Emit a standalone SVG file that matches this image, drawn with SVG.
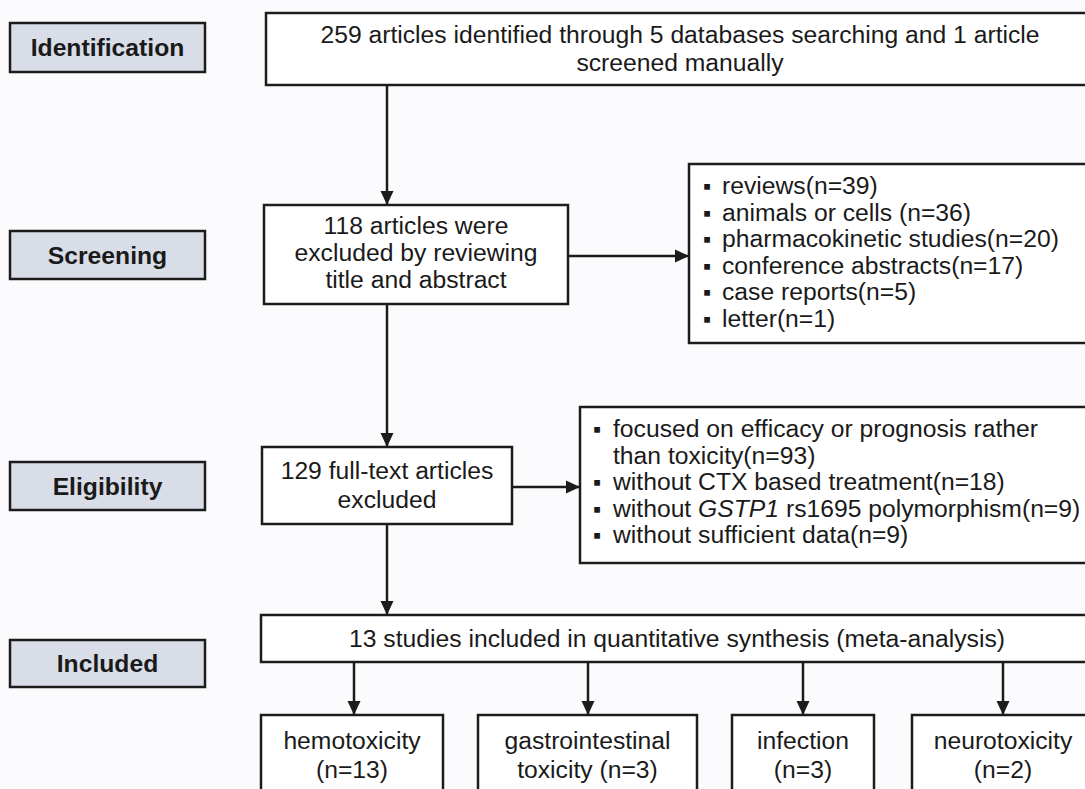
<svg xmlns="http://www.w3.org/2000/svg" width="1085" height="789" viewBox="0 0 1085 789">
<style>
text{font-family:"Liberation Sans",Arial,sans-serif;font-size:24.7px;fill:#1a1a1a}
.lbl rect{fill:#d9dde8;stroke:#1c1c1c;stroke-width:2.5}
.lbl text{font-weight:bold;text-anchor:middle}
.box rect{fill:#ffffff;stroke:#1c1c1c;stroke-width:2.5}
.c{text-anchor:middle}
.b{font-size:23px}
#connectors line{stroke:#1c1c1c;stroke-width:2.5;marker-end:url(#ah)}
</style>
<defs>
<marker id="ah" markerUnits="userSpaceOnUse" markerWidth="15" markerHeight="15" refX="14" refY="7.5" orient="auto">
<path d="M0,1 L14,7.5 L0,14 Z" fill="#1c1c1c"/>
</marker>
</defs>
<rect x="0" y="0" width="1085" height="789" fill="#fbfbfd"/>

<g id="label-identification" class="lbl"><rect x="10" y="23" width="195" height="49"/><text x="107.5" y="56">Identification</text></g>
<g id="label-screening" class="lbl"><rect x="10" y="231" width="195" height="48"/><text x="107.5" y="264">Screening</text></g>
<g id="label-eligibility" class="lbl"><rect x="10" y="462" width="195" height="48"/><text x="107.5" y="495">Eligibility</text></g>
<g id="label-included" class="lbl"><rect x="10" y="640" width="195" height="47"/><text x="107.5" y="672">Included</text></g>

<g id="node-identified" class="box"><rect x="266" y="13" width="840" height="72"/>
<text class="c" x="680" y="43">259 articles identified through 5 databases searching and 1 article</text>
<text class="c" x="680" y="71">screened manually</text></g>

<g id="node-screened" class="box"><rect x="264" y="205" width="304" height="99"/>
<text class="c" x="416" y="234">118 articles were</text>
<text class="c" x="416" y="261">excluded by reviewing</text>
<text class="c" x="416" y="288">title and abstract</text></g>

<g id="node-screen-excl" class="box"><rect x="689" y="164" width="420" height="179"/>
<text y="194"><tspan class="b" x="703">▪</tspan><tspan x="722">reviews(n=39)</tspan></text>
<text y="220.5"><tspan class="b" x="703">▪</tspan><tspan x="722">animals or cells (n=36)</tspan></text>
<text y="247"><tspan class="b" x="703">▪</tspan><tspan x="722">pharmacokinetic studies(n=20)</tspan></text>
<text y="273.5"><tspan class="b" x="703">▪</tspan><tspan x="722">conference abstracts(n=17)</tspan></text>
<text y="300"><tspan class="b" x="703">▪</tspan><tspan x="722">case reports(n=5)</tspan></text>
<text y="326.5"><tspan class="b" x="703">▪</tspan><tspan x="722">letter(n=1)</tspan></text></g>

<g id="node-fulltext" class="box"><rect x="262" y="447" width="250" height="77"/>
<text class="c" x="387" y="479">129 full-text articles</text>
<text class="c" x="387" y="508">excluded</text></g>

<g id="node-fulltext-excl" class="box"><rect x="580" y="407" width="530" height="156"/>
<text y="437"><tspan class="b" x="593">▪</tspan><tspan x="613">focused on efficacy or prognosis rather</tspan></text>
<text y="463.5"><tspan x="613">than toxicity(n=93)</tspan></text>
<text y="490"><tspan class="b" x="593">▪</tspan><tspan x="613">without CTX based treatment(n=18)</tspan></text>
<text y="516.5"><tspan class="b" x="593">▪</tspan><tspan x="613">without </tspan><tspan font-style="italic">GSTP1</tspan><tspan> rs1695 polymorphism(n=9)</tspan></text>
<text y="543"><tspan class="b" x="593">▪</tspan><tspan x="613">without sufficient data(n=9)</tspan></text></g>

<g id="node-included" class="box"><rect x="261" y="615" width="850" height="47"/>
<text class="c" x="677" y="647">13 studies included in quantitative synthesis (meta-analysis)</text></g>

<g id="node-hemo" class="box"><rect x="261" y="715" width="182" height="90"/>
<text class="c" x="352" y="749">hemotoxicity</text><text class="c" x="352" y="778">(n=13)</text></g>
<g id="node-gastro" class="box"><rect x="478" y="715" width="219" height="90"/>
<text class="c" x="587.5" y="749">gastrointestinal</text><text class="c" x="587.5" y="778">toxicity (n=3)</text></g>
<g id="node-infection" class="box"><rect x="732" y="715" width="142" height="90"/>
<text class="c" x="803" y="749">infection</text><text class="c" x="803" y="778">(n=3)</text></g>
<g id="node-neuro" class="box"><rect x="912" y="715" width="182" height="90"/>
<text class="c" x="1003" y="749">neurotoxicity</text><text class="c" x="1003" y="778">(n=2)</text></g>

<g id="connectors">
<line x1="387" y1="85" x2="387" y2="205"/>
<line x1="568" y1="256" x2="689" y2="256"/>
<line x1="387" y1="304" x2="387" y2="447"/>
<line x1="512" y1="487" x2="580" y2="487"/>
<line x1="387" y1="524" x2="387" y2="615"/>
<line x1="354" y1="662" x2="354" y2="715"/>
<line x1="588" y1="662" x2="588" y2="715"/>
<line x1="803" y1="662" x2="803" y2="715"/>
<line x1="1003" y1="662" x2="1003" y2="715"/>
</g>
</svg>
